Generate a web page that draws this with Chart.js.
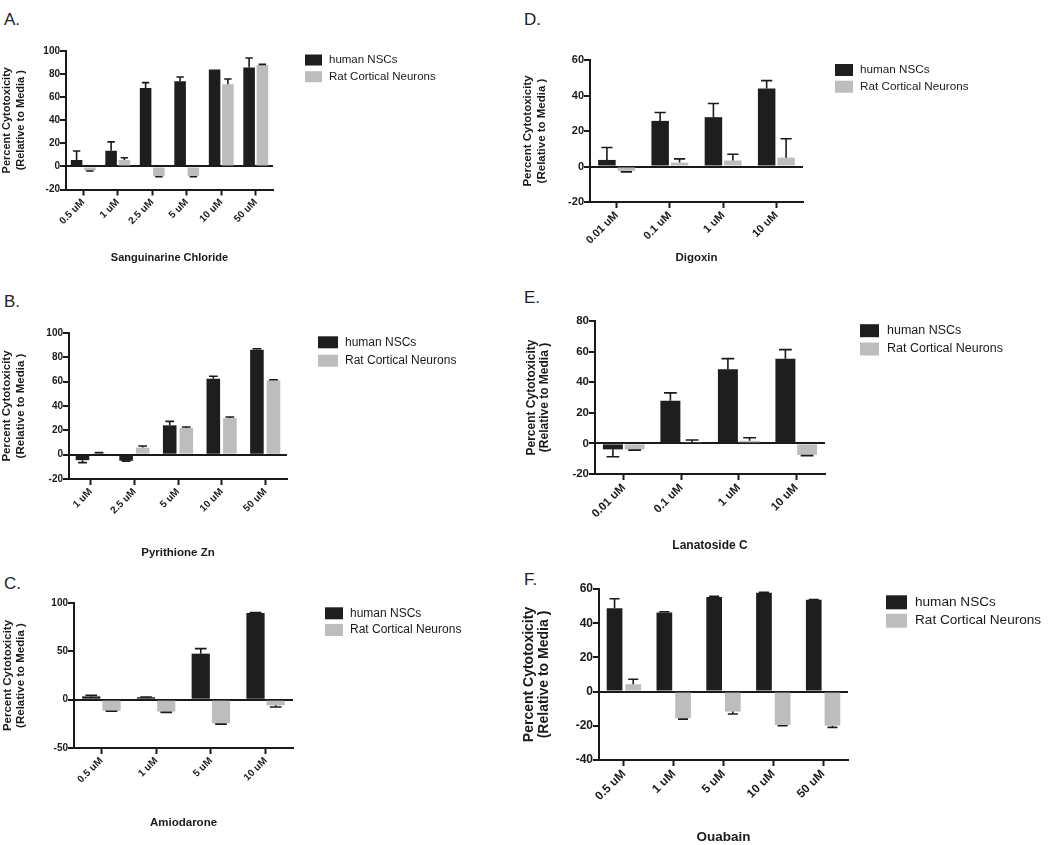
<!DOCTYPE html>
<html>
<head>
<meta charset="utf-8">
<script src="https://cdn.jsdelivr.net/npm/chart.js@4.4.0/dist/chart.umd.min.js"></script>
<style>
  body { margin: 0; background: #fff; width: 1050px; height: 845px; position: relative; overflow: hidden; }
  canvas { position: absolute; }
  .tag { position: absolute; font-family: "Liberation Sans", Arial, sans-serif; font-size: 17px; line-height: 17px; color: #222; }
</style>
</head>
<body>
<div class="tag" style="left:4px;top:11px">A.</div>
<div class="tag" style="left:4px;top:293px">B.</div>
<div class="tag" style="left:4px;top:575px">C.</div>
<div class="tag" style="left:524px;top:11px">D.</div>
<div class="tag" style="left:524px;top:289px">E.</div>
<div class="tag" style="left:524px;top:571px">F.</div>
<script>
// A. Sanguinarine Chloride
const sangDoses = ['0.5 uM', '1 uM', '2.5 uM', '5 uM', '10 uM', '50 uM'];
const sangHuman = [5.5, 13.5, 68, 73.8, 84, 85.6];
const sangHumanErr = [7.8, 7.8, 4.6, 3.7, 0, 8.4];
const sangRat = [-3.5, 5.5, -8.5, -8.5, 71.2, 87.8];
const sangRatErr = [0.5, 2, 0.5, 0.5, 4.6, 0.6];

// B. Pyrithione Zn
const pyrDoses = ['1 uM', '2.5 uM', '5 uM', '10 uM', '50 uM'];
const pyrHuman = [-4.5, -5, 24.1, 62.5, 86.3];
const pyrHumanErr = [2, 0.3, 3.3, 1.9, 0.8];
const pyrRat = [1.2, 5.8, 21.9, 30.1, 61.1];
const pyrRatErr = [0.5, 1.3, 0.8, 0.9, 0.5];

// C. Amiodarone
const amioDoses = ['0.5 uM', '1 uM', '5 uM', '10 uM'];
const amioHuman = [3.4, 2.5, 47.6, 89.7];
const amioHumanErr = [1.1, 0.3, 5.2, 0.3];
const amioRat = [-11.5, -12.3, -24.5, -5.9];
const amioRatErr = [0.5, 0.8, 0.8, 1.7];

// D. Digoxin
const digDoses = ['0.01 uM', '0.1 uM', '1 uM', '10 uM'];
const digHuman = [3.7, 25.7, 27.8, 44];
const digHumanErr = [7, 4.7, 7.7, 4.4];
const digRat = [-2.5, 2.2, 3.4, 5];
const digRatErr = [0.5, 2.1, 3.5, 10.6];

// E. Lanatoside C
const lanDoses = ['0.01 uM', '0.1 uM', '1 uM', '10 uM'];
const lanHuman = [-3.9, 27.8, 48.5, 55.4];
const lanHumanErr = [4.8, 5.2, 6.9, 5.9];
const lanRat = [-3.9, 0.5, 1.7, -7.5];
const lanRatErr = [0.5, 1.7, 2, 0.5];

// F. Ouabain
const ouaDoses = ['0.5 uM', '1 uM', '5 uM', '10 uM', '50 uM'];
const ouaHuman = [48.8, 46.3, 55.3, 57.8, 53.7];
const ouaHumanErr = [5.5, 0.4, 0.4, 0.2, 0.2];
const ouaRat = [4.3, -15.6, -11.7, -19.5, -19.9];
const ouaRatErr = [2.9, 0.5, 1.4, 0.5, 1];

const seriesNames = ['human NSCs', 'Rat Cortical Neurons'];
const seriesColors = ['#1e1e1e', '#bdbdbd'];
const ink = '#1a1a1a';
const FONT = '"Liberation Sans", Arial, sans-serif';

// one-sided error bars, drawn away from zero
const errorBars = {
    id: 'errorBars',
    afterDatasetsDraw(chart) {
        const ctx = chart.ctx;
        const yScale = chart.scales.y;
        chart.data.datasets.forEach((ds, i) => {
            const meta = chart.getDatasetMeta(i);
            meta.data.forEach((bar, j) => {
                const v = ds.data[j];
                const e = ds.errors[j];
                if (!e) return;
                const yEnd = yScale.getPixelForValue(v >= 0 ? v + e : v - e);
                const half = bar.width * 0.32;
                ctx.save();
                ctx.strokeStyle = ink;
                ctx.lineWidth = 1.6;
                ctx.beginPath();
                ctx.moveTo(bar.x, bar.y);
                ctx.lineTo(bar.x, yEnd);
                ctx.moveTo(bar.x - half, yEnd);
                ctx.lineTo(bar.x + half, yEnd);
                ctx.stroke();
                ctx.restore();
            });
        });
    }
};

// legend to the right of the plot
const sideLegend = {
    id: 'sideLegend',
    afterDraw(chart, args, opts) {
        const { ctx, chartArea } = chart;
        ctx.save();
        chart.data.datasets.forEach((ds, i) => {
            const x = chartArea.right + opts.dx;
            const yc = chartArea.top + opts.rows[i];
            ctx.fillStyle = ds.backgroundColor;
            ctx.fillRect(x, yc - opts.h / 2, opts.w, opts.h);
            ctx.fillStyle = ink;
            ctx.font = opts.size + 'px ' + FONT;
            ctx.textBaseline = 'middle';
            ctx.textAlign = 'left';
            ctx.fillText(ds.label, x + opts.tx, yc);
        });
        ctx.restore();
    }
};

const panels = [
    { labels: sangDoses, values: [sangHuman, sangRat], errors: [sangHumanErr, sangRatErr],
      min: -20, max: 100, step: 20, title: 'Sanguinarine Chloride',
      box: { cl: 0, cw: 515, L: 66, T: 51, R: 273, B: 189.5, xt: 258 },
      font: { tick: 10, y: 11, yLh: 1.25, yPad: 0, x: 11 },
      leg: { dx: 32, rows: [9, 25.7], w: 17, h: 11, tx: 24, size: 11.5 }, cat: 0.77, bar: 0.87 },
    { labels: pyrDoses, values: [pyrHuman, pyrRat], errors: [pyrHumanErr, pyrRatErr],
      min: -20, max: 100, step: 20, title: 'Pyrithione Zn',
      box: { cl: 0, cw: 515, L: 69, T: 333, R: 287, B: 479, xt: 553 },
      font: { tick: 10, y: 11.5, yLh: 1.17, yPad: 0.5, x: 11.5 },
      leg: { dx: 31, rows: [9.3, 27.7], w: 20, h: 12, tx: 27, size: 12 }, cat: 0.76, bar: 0.82 },
    { labels: amioDoses, values: [amioHuman, amioRat], errors: [amioHumanErr, amioRatErr],
      min: -50, max: 100, step: 50, title: 'Amiodarone',
      box: { cl: 0, cw: 515, L: 74, T: 603, R: 293, B: 748, xt: 823 },
      font: { tick: 10, y: 11.5, yLh: 1.1, yPad: 2, x: 11.5 },
      leg: { dx: 32, rows: [10.3, 27], w: 18, h: 12, tx: 25, size: 12 }, cat: 0.74, bar: 0.9 },
    { labels: digDoses, values: [digHuman, digRat], errors: [digHumanErr, digRatErr],
      min: -20, max: 60, step: 20, title: 'Digoxin',
      box: { cl: 520, cw: 530, L: 590, T: 60, R: 803, B: 202, xt: 258 },
      font: { tick: 11, y: 11.5, yLh: 1.22, yPad: 1, x: 11.5 },
      leg: { dx: 32, rows: [10, 26.7], w: 18, h: 12, tx: 25, size: 11.7 }, cat: 0.73, bar: 0.9 },
    { labels: lanDoses, values: [lanHuman, lanRat], errors: [lanHumanErr, lanRatErr],
      min: -20, max: 80, step: 20, title: 'Lanatoside C',
      box: { cl: 520, cw: 530, L: 595, T: 321, R: 825, B: 474, xt: 546 },
      font: { tick: 11.5, y: 12, yLh: 1.1, yPad: 5, x: 12 },
      leg: { dx: 35, rows: [9.7, 28], w: 19, h: 13, tx: 27, size: 12.5 }, cat: 0.755, bar: 0.92 },
    { labels: ouaDoses, values: [ouaHuman, ouaRat], errors: [ouaHumanErr, ouaRatErr],
      min: -40, max: 60, step: 20, title: 'Ouabain',
      box: { cl: 520, cw: 530, L: 599, T: 589, R: 848, B: 760, xt: 837 },
      font: { tick: 12, y: 14, yLh: 1.05, yPad: 2, x: 13.5 },
      leg: { dx: 38, rows: [13.3, 31.7], w: 21, h: 14, tx: 29, size: 13.6 }, cat: 0.75, bar: 0.84 }
];

function makePanel(p) {
    const b = p.box;
    const ct = Math.round(b.T) - 12;
    const bottom = b.xt + p.font.x * 1.2 / 2;
    const height = Math.round(bottom - ct);
    const padTop = b.T - ct;
    const xHeight = height - padTop - (b.B - b.T);

    const canvas = document.createElement('canvas');
    canvas.width = b.cw;
    canvas.height = height;
    canvas.style.left = b.cl + 'px';
    canvas.style.top = ct + 'px';
    document.body.appendChild(canvas);

    new Chart(canvas, {
        type: 'bar',
        data: {
            labels: p.labels,
            datasets: seriesNames.map((name, i) => ({
                label: name,
                data: p.values[i],
                errors: p.errors[i],
                backgroundColor: seriesColors[i],
                borderWidth: 0,
                categoryPercentage: p.cat,
                barPercentage: p.bar
            }))
        },
        options: {
            responsive: false,
            animation: false,
            devicePixelRatio: 1,
            layout: { padding: { top: padTop, right: b.cw - (b.R - b.cl), left: 0, bottom: 0 } },
            plugins: {
                legend: { display: false },
                tooltip: { enabled: false },
                sideLegend: p.leg
            },
            scales: {
                x: {
                    afterFit: s => { s.height = xHeight; },
                    border: { color: ink, width: 2 },
                    grid: { offset: false, drawOnChartArea: false, tickLength: 6, tickWidth: 2, tickColor: ink },
                    ticks: {
                        minRotation: 45, maxRotation: 45, padding: 1, color: ink,
                        font: { family: FONT, size: p.font.tick, weight: 'bold' }
                    },
                    title: {
                        display: true, text: p.title, color: ink, padding: 0,
                        font: { family: FONT, size: p.font.x, weight: 'bold', lineHeight: 1.2 }
                    }
                },
                y: {
                    min: p.min, max: p.max,
                    afterFit: s => { s.width = b.L - b.cl; },
                    border: { color: ink, width: 2 },
                    grid: {
                        drawOnChartArea: true,
                        color: c => (c.tick && c.tick.value === 0 ? ink : 'rgba(0,0,0,0)'),
                        lineWidth: 2, tickLength: 6, tickWidth: 2, tickColor: ink
                    },
                    ticks: {
                        stepSize: p.step, padding: 0, color: ink,
                        font: { family: FONT, size: p.font.tick, weight: 'bold' }
                    },
                    title: {
                        display: true, color: ink,
                        text: ['Percent Cytotoxicity', '(Relative to Media )'],
                        padding: { top: p.font.yPad, bottom: 0 },
                        font: { family: FONT, size: p.font.y, weight: 'bold', lineHeight: p.font.yLh }
                    }
                }
            }
        },
        plugins: [errorBars, sideLegend]
    });
}

panels.forEach(makePanel);
</script>
</body>
</html>
